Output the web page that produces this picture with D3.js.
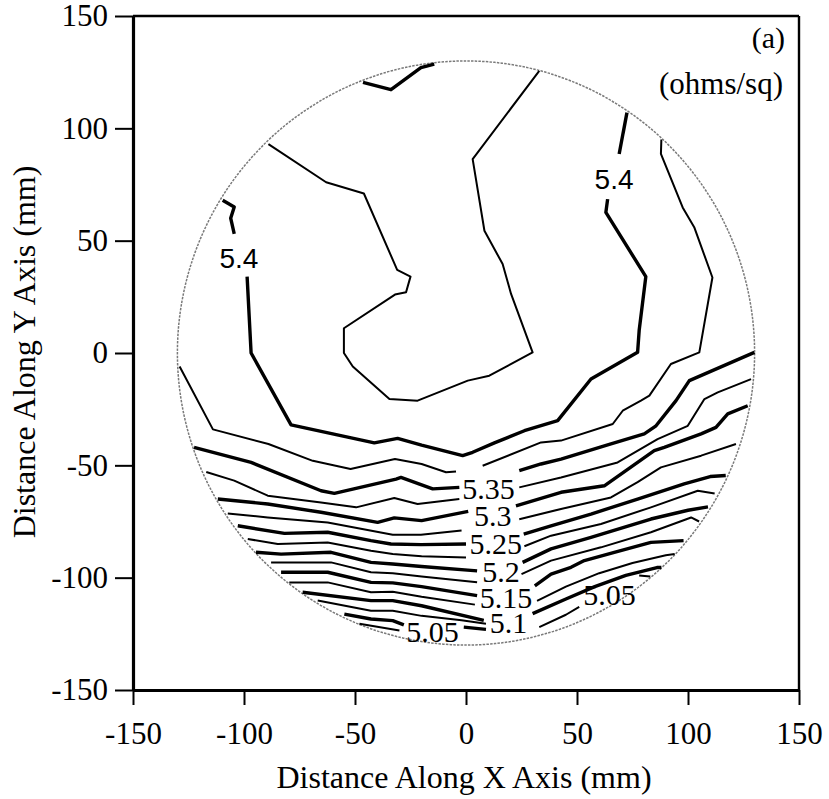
<!DOCTYPE html>
<html>
<head>
<meta charset="utf-8">
<script src="https://cdn.jsdelivr.net/npm/d3@7"></script>
<style>
  body { margin: 0; background: #fff; }
  svg { display: block; }
  .serif { font-family: "Liberation Serif", "Times New Roman", Times, serif; }
  .sans { font-family: "Liberation Sans", Arial, Helvetica, sans-serif; }
</style>
</head>
<body>
<svg id="chart" width="829" height="799"></svg>
<script>
// ---------- data ----------
const xTicks = [-150, -100, -50, 0, 50, 100, 150];
const yTicks = [-150, -100, -50, 0, 50, 100, 150];
const waferRadius = 130;

// contour polylines (mm), each level = list of segments
const c5425 = [[[-89,93],[-63,76],[-46,71],[-31,37],[-25,34],[-27,27],[-32,26],[-55,11],[-55,0],[-51,-6],[-34.5,-20.5],[-21.8,-21.2],[0.8,-12.3],[10.5,-10.1],[30,0.3],[20.3,26.3],[16.5,39.6],[8.3,54.4],[3,86.3],[33,125.6]]];
const c5400 = [
  [[-46.4,120.5],[-33.8,117.2],[-20.3,127],[-14.3,128.6]],
  [[-109.6,68],[-104.4,65],[-106,60],[-104.4,53]],
  [[-98.6,34],[-96.8,0],[-78.8,-32],[-41.3,-40],[-30.8,-38],[-20,-41],[-1.5,-45.7],[3,-44.2],[12.8,-40],[26.3,-34.6],[41.3,-30.1],[56.3,-11.6],[77.3,0.3],[78,10],[81,34],[63,62.6],[63.8,68.5]],
  [[69,88.6],[72.5,107]]
];
const c5375 = [
  [[-129,-6],[-114,-34],[-89,-40.5],[-69,-48],[-52,-51.6],[-32,-47.2],[-20,-49.4],[-9,-53.1],[-4.5,-52.7]],
  [[7.5,-50.2],[33.8,-39.8],[42.8,-39],[66.1,-31.6],[70.6,-25.7],[78.8,-21.2],[82.6,-19],[92.3,-4.9],[105.1,0.3],[111,33.6],[102.8,56],[97.6,64.8],[87.8,88.6],[88,95]]
];
const c5350 = [
  [[-122.5,-42],[-96.8,-48.7],[-65.3,-61.3],[-59.3,-62.5],[-31.5,-56.1],[-29.3,-55.4],[-15,-60.5],[-3,-59.8]],
  [[24,-52.4],[33.8,-49.4],[42.8,-47.2],[65.3,-40.5],[80.3,-36],[85.6,-32.4],[94.6,-21.2],[100.6,-12.3],[129.9,0.3]]
];
const c5325 = [
  [[-117,-53],[-104.4,-56.8],[-89.3,-63.5],[-65.3,-66.5],[-49.5,-68.7],[-32.3,-64.5],[-21.8,-67.2],[-3,-65]],
  [[24,-59.8],[42.8,-55.4],[68.3,-48.7],[86.3,-38.3],[99.9,-32.4],[107.4,-20.5],[113.4,-17.5],[128.4,-11.6]]
];
const c5300 = [
  [[-111.8,-65],[-89.3,-67.2],[-65.3,-70.9],[-39.8,-75.4],[-32.3,-73.4],[-20,-74.6],[1,-70.5]],
  [[22.5,-68],[42.8,-62],[62.3,-59.1],[84.8,-43.5],[89.3,-42],[105.9,-36],[112.6,-33.1],[117.9,-27.1],[126.9,-23.5]]
];
const c5275 = [
  [[-107.3,-71.4],[-89.3,-73.2],[-62.3,-75.4],[-33,-80.9],[-20.3,-80.9],[-2,-79]],
  [[24,-74],[42.8,-69.4],[65.3,-64.3],[77.3,-57.5],[87.8,-50.9],[105.9,-45.7],[121.6,-40.5]]
];
const c5250 = [
  [[-102.8,-76.9],[-81.8,-80.3],[-62.3,-79.8],[-42.8,-83.5],[-33.8,-85],[-20.3,-85.3],[0,-85]],
  [[26,-80.6],[38.3,-76.9],[56.3,-71.7],[77.3,-65],[98.3,-58.3],[110,-55],[117,-54.5]]
];
const c5225 = [
  [[-98.3,-82.8],[-84.8,-85],[-62.3,-84.3],[-42.8,-88],[-33,-89.5],[-20,-90.5],[0,-91]],
  [[26.3,-86],[38.3,-81.3],[60.8,-76.1],[83.3,-68.7],[104.4,-61.3],[112,-62.5]]
];
const c5200 = [
  [[-94.6,-88.7],[-83.3,-89.5],[-60.8,-88.7],[-42.8,-93.2],[-33,-93.9],[-20,-95],[5,-97]],
  [[25.5,-93.2],[38.3,-87.2],[56.3,-82.1],[83.3,-73.9],[100,-70],[109,-68.5]]
];
const c5175 = [
  [[-87.8,-93.2],[-60.8,-93.2],[-42.8,-97.6],[-33,-98],[-20,-99.5],[5,-102]],
  [[25,-98.4],[38.3,-92.4],[60.8,-86.5],[83.3,-79.8],[101.4,-73.2],[105,-75]]
];
const c5150 = [
  [[-83.3,-97.6],[-62.3,-97.6],[-42.8,-102.1],[-33,-102.3],[-20,-104],[5,-108]],
  [[31,-103.6],[38.3,-98.4],[47.3,-95.4],[53.3,-92.4],[66.8,-88.7],[83.3,-84.3],[98,-83.5]]
];
const c5125 = [
  [[-79.6,-102.1],[-62.3,-102.1],[-42.8,-106.5],[-33,-106.3],[-20,-108.5],[4,-112]],
  [[32,-110.3],[45,-104],[60,-98],[75,-93.5],[90,-90],[94,-89.5]]
];
const c5100 = [
  [[-73.6,-106.5],[-42.8,-110.2],[-33,-110.2],[-20,-112.5],[8,-119]],
  [[30,-116],[45,-109.5],[58,-104],[72,-99],[86,-95.5],[88,-95.5]]
];
const c5075 = [
  [[-66.8,-110.2],[-42.8,-114.7],[-33,-114.7],[-20,-117],[-2,-119],[9,-120.5]],
  [[33,-122],[45,-116.5],[51,-113]],
  [[78,-99],[83,-99.5]]
];
const c5050 = [
  [[-54.8,-116.2],[-42.8,-118.4],[-33,-119.1],[-28,-121]],
  [[-1,-122],[9,-123]]
];
const c5025 = [
  [[-48,-120.5],[-30,-123.5]]
];
const contourList = [
  [5.425, c5425], [5.4, c5400], [5.375, c5375], [5.35, c5350], [5.325, c5325],
  [5.3, c5300], [5.275, c5275], [5.25, c5250], [5.225, c5225], [5.2, c5200],
  [5.175, c5175], [5.15, c5150], [5.125, c5125], [5.1, c5100], [5.075, c5075],
  [5.05, c5050], [5.025, c5025]
];

// contour labels
const labelText = ["5.4", "5.4", "5.35", "5.3", "5.25", "5.2", "5.15", "5.1", "5.05", "5.05"];
const labelX    = [-102.3, 66.7, 10.1, 12, 13.4, 15.8, 18, 19.1, -15.1, 64.6];
const labelY    = [42.4, 77.5, -60.4, -72.4, -85, -97.3, -108.9, -120, -124, -107.6];
const labelSans = [true, true, false, false, false, false, false, false, false, false];

// ---------- drawing ----------
const svg = d3.select("#chart");
const x = d3.scaleLinear().domain([-150, 150]).range([133, 799]);
const y = d3.scaleLinear().domain([-150, 150]).range([690, 16]);

svg.append("rect").attr("width", 829).attr("height", 799).attr("fill", "#fff");

// wafer boundary
svg.append("ellipse")
  .attr("cx", x(0)).attr("cy", y(0))
  .attr("rx", x(waferRadius) - x(0)).attr("ry", y(0) - y(waferRadius))
  .attr("fill", "none").attr("stroke", "#7a7a7a")
  .attr("stroke-width", 1.5).attr("stroke-dasharray", "2.5,1.2");

// contours
const line = d3.line().x(d => x(d[0])).y(d => y(d[1]));
const isMajor = lv => Math.abs(lv * 20 - Math.round(lv * 20)) < 1e-6;
contourList.forEach(([lv, segs]) => {
  segs.forEach(seg => {
    svg.append("path")
      .attr("d", line(seg))
      .attr("fill", "none")
      .attr("stroke", "#000")
      .attr("stroke-width", isMajor(lv) ? 3.4 : 2)
      .attr("stroke-linejoin", "round");
  });
});

// labels
labelText.forEach((t, i) => {
  svg.append("text")
    .attr("class", labelSans[i] ? "sans" : "serif")
    .attr("x", x(labelX[i])).attr("y", y(labelY[i]))
    .attr("dy", "0.35em")
    .attr("text-anchor", "middle")
    .style("font-size", labelSans[i] ? "28px" : "30px")
    .text(t);
});

// frame top & right
svg.append("line").attr("x1", x(-150)).attr("x2", x(150)).attr("y1", y(150)).attr("y2", y(150))
  .attr("stroke", "#000").attr("stroke-width", 2.4);
svg.append("line").attr("x1", x(150)).attr("x2", x(150)).attr("y1", y(150)).attr("y2", y(-150))
  .attr("stroke", "#000").attr("stroke-width", 2.4);

// axes
const gx = svg.append("g").attr("transform", `translate(0,${y(-150)})`)
  .call(d3.axisBottom(x).tickValues(xTicks).tickSize(15).tickSizeOuter(0).tickPadding(17).tickFormat(d => String(d)));
const gy = svg.append("g").attr("transform", `translate(${x(-150)},0)`)
  .call(d3.axisLeft(y).tickValues(yTicks).tickSize(18).tickSizeOuter(0).tickPadding(7).tickFormat(d => String(d)));
[gx, gy].forEach(g => {
  g.attr("font-family", null).attr("font-size", null);
  g.select(".domain").attr("stroke", "#000").attr("stroke-width", 3.2);
  g.selectAll(".tick line").attr("stroke", "#000").attr("stroke-width", 2);
  g.selectAll(".tick text").attr("class", "serif").attr("fill", "#000").style("font-size", "31px");
});

// titles
svg.append("text").attr("class", "serif").attr("x", 464).attr("y", 788).attr("text-anchor", "middle")
  .style("font-size", "32px").text("Distance Along X Axis (mm)");
svg.append("text").attr("class", "serif").attr("transform", "translate(35,352) rotate(-90)").attr("text-anchor", "middle")
  .style("font-size", "32px").text("Distance Along Y Axis (mm)");
svg.append("text").attr("class", "serif").attr("x", 785).attr("y", 48).attr("text-anchor", "end")
  .style("font-size", "30px").text("(a)");
svg.append("text").attr("class", "serif").attr("x", 783).attr("y", 94).attr("text-anchor", "end")
  .style("font-size", "31px").text("(ohms/sq)");
</script>
</body>
</html>
